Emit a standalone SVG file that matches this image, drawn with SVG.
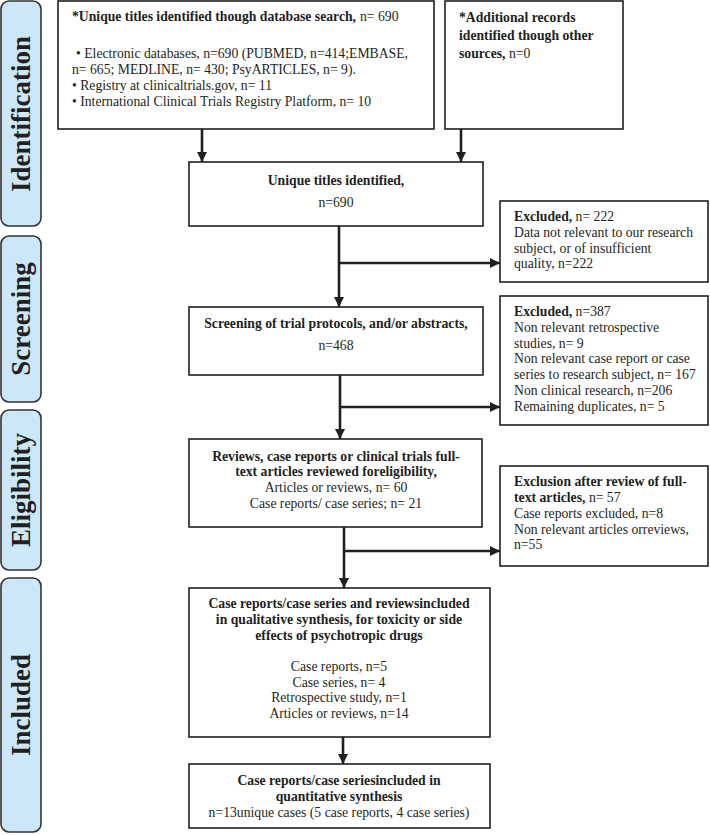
<svg xmlns="http://www.w3.org/2000/svg" width="710" height="835" viewBox="0 0 710 835">
<defs>
<style>
text{font-family:"Liberation Serif","Times New Roman",serif;font-size:13.7px;fill:#231f20}
.b{font-weight:bold}
.c{text-anchor:middle}
.side{font-size:27px;font-weight:bold;text-anchor:middle}
.panel{fill:#cce7f8;stroke:#333;stroke-width:1.6}
.box{fill:#fff;stroke:#231f20;stroke-width:1.6}
.con{stroke:#231f20;stroke-width:2.6;fill:none}
</style>
<marker id="ah" markerUnits="userSpaceOnUse" viewBox="0 0 10 10" refX="10" refY="5" markerWidth="10" markerHeight="10" orient="auto">
<path d="M0,0 L10,5 L0,10 z" fill="#231f20"/>
</marker>
</defs>
<rect width="710" height="835" fill="#fff"/>

<g id="phase-identification"><rect class="panel" x="1" y="1" width="40" height="225" rx="8"/><text class="side" transform="translate(30,114) rotate(-90)">Identification</text></g>
<g id="phase-screening"><rect class="panel" x="1" y="236" width="40" height="166" rx="8"/><text class="side" transform="translate(30,319) rotate(-90)">Screening</text></g>
<g id="phase-eligibility"><rect class="panel" x="1" y="410" width="40" height="160" rx="8"/><text class="side" transform="translate(30,490) rotate(-90)">Eligibility</text></g>
<g id="phase-included"><rect class="panel" x="1" y="578" width="40" height="254" rx="8"/><text class="side" transform="translate(30,705) rotate(-90)">Included</text></g>

<g id="connectors">
<line class="con" x1="202" y1="129" x2="202" y2="162" marker-end="url(#ah)"/>
<line class="con" x1="461" y1="129" x2="461" y2="162" marker-end="url(#ah)"/>
<line class="con" x1="339" y1="226" x2="339" y2="307" marker-end="url(#ah)"/>
<line class="con" x1="339" y1="263" x2="500" y2="263" marker-end="url(#ah)"/>
<line class="con" x1="340" y1="375" x2="340" y2="439" marker-end="url(#ah)"/>
<line class="con" x1="340" y1="407" x2="500" y2="407" marker-end="url(#ah)"/>
<line class="con" x1="344" y1="527" x2="344" y2="588" marker-end="url(#ah)"/>
<line class="con" x1="344" y1="551" x2="500" y2="551" marker-end="url(#ah)"/>
<line class="con" x1="343" y1="737" x2="343" y2="764" marker-end="url(#ah)"/>
</g>

<g id="db-search">
<rect class="box" x="58" y="1" width="376" height="128"/>
<text x="72" y="21" class="b" textLength="284" lengthAdjust="spacing">*Unique titles identified though database search,</text>
<text x="360" y="21">n= 690</text>
<text x="76" y="58">• Electronic databases, n=690 (PUBMED, n=414;EMBASE,</text>
<text x="72" y="74">n= 665; MEDLINE, n= 430; PsyARTICLES, n= 9).</text>
<text x="72" y="90">• Registry at clinicaltrials.gov, n= 11</text>
<text x="72" y="106">• International Clinical Trials Registry Platform, n= 10</text>
</g>

<g id="other-sources">
<rect class="box" x="445" y="1" width="178" height="128"/>
<text x="459" y="22" class="b">*Additional records</text>
<text x="459" y="40" class="b">identified though other</text>
<text x="459" y="58"><tspan class="b">sources,</tspan> n=0</text>
</g>

<g id="unique-titles">
<rect class="box" x="189" y="162" width="294" height="64"/>
<text x="336" y="185" class="b c">Unique titles identified,</text>
<text x="336" y="207" class="c">n=690</text>
</g>

<g id="excluded-1">
<rect class="box" x="500" y="201" width="208" height="81"/>
<text x="514" y="221"><tspan class="b">Excluded,</tspan> n= 222</text>
<text x="514" y="237">Data not relevant to our research</text>
<text x="514" y="253">subject, or of insufficient</text>
<text x="514" y="268">quality, n=222</text>
</g>

<g id="screening">
<rect class="box" x="189" y="307" width="294" height="68"/>
<text x="336" y="328" class="b c">Screening of trial protocols, and/or abstracts,</text>
<text x="336" y="350" class="c">n=468</text>
</g>

<g id="excluded-2">
<rect class="box" x="500" y="296" width="208" height="129"/>
<text x="514" y="316"><tspan class="b">Excluded,</tspan> n=387</text>
<text x="514" y="332">Non relevant retrospective</text>
<text x="514" y="348">studies, n= 9</text>
<text x="514" y="363">Non relevant case report or case</text>
<text x="514" y="379">series to research subject, n= 167</text>
<text x="514" y="395">Non clinical research, n=206</text>
<text x="514" y="411">Remaining duplicates, n= 5</text>
</g>

<g id="eligibility">
<rect class="box" x="189" y="439" width="293" height="88"/>
<text x="336" y="461" class="b c">Reviews, case reports or clinical trials full-</text>
<text x="336" y="476" class="b c">text articles reviewed foreligibility,</text>
<text x="336" y="492" class="c">Articles or reviews, n= 60</text>
<text x="336" y="508" class="c">Case reports/ case series; n= 21</text>
</g>

<g id="excluded-3">
<rect class="box" x="500" y="466" width="208" height="100"/>
<text x="514" y="486" class="b">Exclusion after review of full-</text>
<text x="514" y="502"><tspan class="b">text articles,</tspan> n= 57</text>
<text x="514" y="518">Case reports excluded, n=8</text>
<text x="514" y="534">Non relevant articles orreviews,</text>
<text x="514" y="549">n=55</text>
</g>

<g id="qualitative">
<rect class="box" x="189" y="588" width="301" height="149"/>
<text x="339" y="608" class="b c">Case reports/case series and reviewsincluded</text>
<text x="339" y="624" class="b c">in qualitative synthesis, for toxicity or side</text>
<text x="339" y="640" class="b c">effects of psychotropic drugs</text>
<text x="339" y="671" class="c">Case reports, n=5</text>
<text x="339" y="687" class="c">Case series, n= 4</text>
<text x="339" y="702" class="c">Retrospective study, n=1</text>
<text x="339" y="718" class="c">Articles or reviews, n=14</text>
</g>

<g id="quantitative">
<rect class="box" x="189" y="764" width="301" height="64"/>
<text x="339" y="785" class="b c">Case reports/case seriesincluded in</text>
<text x="339" y="801" class="b c">quantitative synthesis</text>
<text x="339" y="817" class="c">n=13unique cases (5 case reports, 4 case series)</text>
</g>
</svg>
